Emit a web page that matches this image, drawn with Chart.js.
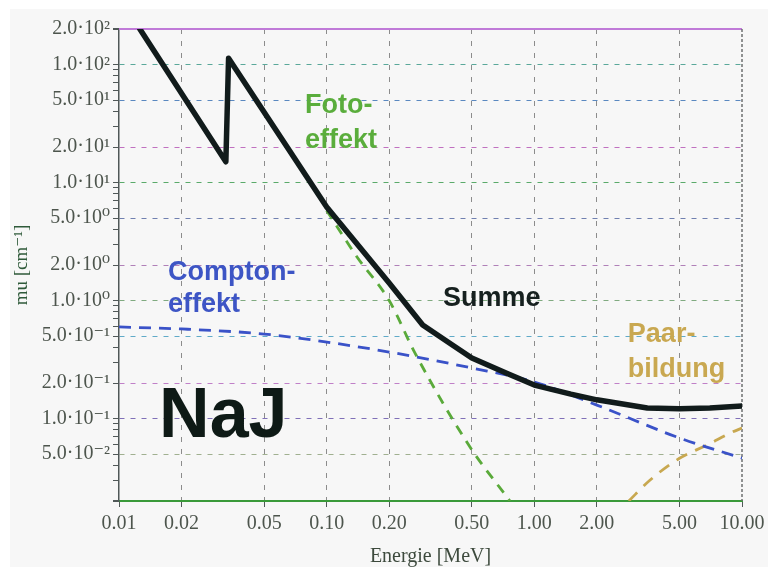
<!DOCTYPE html>
<html lang="de">
<head>
<meta charset="UTF-8">
<title>NaJ – Schwächungskoeffizient</title>
<script src="https://cdn.jsdelivr.net/npm/chart.js@4"></script>
<style>
  html, body { margin: 0; padding: 0; background: #fff; }
  #wrap { width: 781px; height: 567px; position: relative; }
</style>
</head>
<body>
<div id="wrap"><canvas id="chart"></canvas></div>
<script>
// Energie [MeV] / mu [cm^-1]
const summeE   = [0.0126, 0.0327, 0.0337, 0.1, 0.2, 0.29, 0.39, 0.5, 0.75, 1.0, 1.5, 2.0, 3.5, 5.0, 7.0, 10.0];
const summeMu  = [200, 15, 113, 6.2, 1.41, 0.62, 0.437, 0.326, 0.238, 0.192, 0.161, 0.144, 0.123, 0.121, 0.123, 0.128];
const comptonE  = [0.01, 0.02, 0.05, 0.1, 0.2, 0.5, 1.0, 2.0, 5.0, 10.0];
const comptonMu = [0.597, 0.574, 0.52, 0.445, 0.366, 0.268, 0.204, 0.130, 0.0684, 0.0462];
const fotoE  = [0.1, 0.14, 0.2, 0.266, 0.49, 0.763];
const fotoMu = [5.8, 2.34, 1.0, 0.36, 0.0574, 0.02];
const paarE  = [2.85, 3.6, 5.0, 6.8, 9.0, 10.0];
const paarMu = [0.02, 0.030, 0.046, 0.0597, 0.0769, 0.083];

const xTicks = [0.01, 0.02, 0.05, 0.1, 0.2, 0.5, 1, 2, 5, 10];
const xTickLabels = ['0.01', '0.02', '0.05', '0.10', '0.20', '0.50', '1.00', '2.00', '5.00', '10.00'];
const yTicks = [200, 100, 50, 20, 10, 5, 2, 1, 0.5, 0.2, 0.1, 0.05, 0.02];
const yTickLabels = ['2.0·10²', '1.0·10²', '5.0·10¹', '2.0·10¹', '1.0·10¹', '5.0·10⁰', '2.0·10⁰',
                     '1.0·10⁰', '5.0·10⁻¹', '2.0·10⁻¹', '1.0·10⁻¹', '5.0·10⁻²', ''];
const yMinorTicks = [90, 80, 70, 60, 40, 30, 9, 8, 7, 6, 4, 3, 0.9, 0.8, 0.7, 0.6, 0.4, 0.3,
                     0.09, 0.08, 0.07, 0.06, 0.04, 0.03];

// grid line colours of the scan, one per labelled y tick
const yGridColors = ['#c070d8', '#5aa89a', '#5a88c0', '#c070c0', '#5aaa6a', '#7080b0', '#b080b8',
                     '#80aa80', '#60aac8', '#c080c8', '#8070b8', '#a0b090', '#3a9a3a'];

const serif = "'Liberation Serif', 'DejaVu Serif', serif";
const sans = "'Liberation Sans', Arial, sans-serif";

const notes = [
  { lines: ['Foto-', 'effekt'], x: 0.0786, y: [38.8, 19.6], color: '#5aad3c', size: 27 },
  { lines: ['Compton-', 'effekt'], x: 0.0172, y: [1.49, 0.80], color: '#3d55c5', size: 27 },
  { lines: ['Summe'], x: 0.363, y: [0.90], color: '#16201f', size: 27 },
  { lines: ['Paar-', 'bildung'], x: 2.82, y: [0.445, 0.225], color: '#c9a851', size: 27 },
  { lines: ['NaJ'], x: 0.0156, y: [0.0697], color: '#0e1a16', size: 70 }
];

function pts(xs, ys) { return xs.map((x, i) => ({ x: x, y: ys[i] })); }
function tickVal(c) { return c && c.tick ? c.tick.value : NaN; }
function majorIndexY(v) { return yTicks.findIndex(t => Math.abs(t - v) < t * 1e-6); }
function isEdgeY(v) { return v === 200 || v === 0.02; }

const backdrop = {
  id: 'backdrop',
  beforeDraw(chart) {
    const ctx = chart.ctx;
    ctx.save();
    ctx.fillStyle = '#ffffff';
    ctx.fillRect(0, 0, chart.width, chart.height);
    ctx.fillStyle = '#f7f7f7';
    ctx.fillRect(10, 9, 758, chart.height - 9);
    ctx.restore();
  },
  beforeDatasetsDraw(chart) {
    // top and right frame
    const { ctx, chartArea: a } = chart;
    ctx.save();
    ctx.strokeStyle = '#c07ad8';
    ctx.lineWidth = 2;
    ctx.beginPath();
    ctx.moveTo(a.left, a.top);
    ctx.lineTo(a.right, a.top);
    ctx.stroke();
    ctx.strokeStyle = '#6e7070';
    ctx.lineWidth = 1.5;
    ctx.setLineDash([3, 2]);
    ctx.beginPath();
    ctx.moveTo(a.right, a.top);
    ctx.lineTo(a.right, a.bottom);
    ctx.stroke();
    ctx.restore();
  },
  afterDatasetsDraw(chart) {
    const { ctx, scales } = chart;
    ctx.save();
    ctx.textAlign = 'left';
    ctx.textBaseline = 'alphabetic';
    notes.forEach(n => {
      ctx.fillStyle = n.color;
      ctx.font = 'bold ' + n.size + 'px ' + sans;
      const px = scales.x.getPixelForValue(n.x);
      n.lines.forEach((t, i) => ctx.fillText(t, px, scales.y.getPixelForValue(n.y[i])));
    });
    ctx.restore();
  }
};

new Chart(document.getElementById('chart'), {
  type: 'line',
  data: {
    datasets: [
      { label: 'Summe', data: pts(summeE, summeMu), borderColor: '#111b1b', borderWidth: 5.5,
        borderJoinStyle: 'round', borderCapStyle: 'round', pointRadius: 0, tension: 0 },
      { label: 'Compton', data: pts(comptonE, comptonMu), borderColor: '#3a52c8', borderWidth: 2.8,
        borderDash: [12, 8], pointRadius: 0, cubicInterpolationMode: 'monotone' },
      { label: 'Foto', data: pts(fotoE, fotoMu), borderColor: '#5aaa3a', borderWidth: 2.8,
        borderDash: [10, 8], pointRadius: 0, cubicInterpolationMode: 'monotone' },
      { label: 'Paar', data: pts(paarE, paarMu), borderColor: '#c8a850', borderWidth: 2.8,
        borderDash: [12, 9], pointRadius: 0, cubicInterpolationMode: 'monotone' }
    ]
  },
  options: {
    responsive: true,
    maintainAspectRatio: false,
    animation: false,
    layout: { padding: { left: 0, top: 29, right: 39, bottom: 0 } },
    plugins: { legend: { display: false }, tooltip: { enabled: false } },
    scales: {
      x: {
        type: 'logarithmic',
        min: 0.01,
        max: 10,
        afterBuildTicks: s => { s.ticks = xTicks.map(v => ({ value: v })); },
        afterFit: s => { s.height = 66; },
        ticks: {
          autoSkip: false,
          maxRotation: 0,
          padding: 5,
          color: '#4d554d',
          font: { family: serif, size: 20 },
          callback: (v, i) => xTickLabels[i]
        },
        grid: {
          color: c => (c.index === 0 || c.index === xTicks.length - 1) ? 'transparent' : '#8c8c8c',
          lineWidth: 1,
          tickLength: 6,
          tickColor: '#505858'
        },
        border: { display: true, color: '#3a9a3a', width: 2, dash: [5, 7] },
        title: {
          display: true,
          text: 'Energie [MeV]',
          color: '#3d4a3d',
          font: { family: serif, size: 20, lineHeight: 1.0 },
          padding: { top: 0, bottom: 0 }
        }
      },
      y: {
        type: 'logarithmic',
        min: 0.02,
        max: 200,
        afterBuildTicks: s => { s.ticks = yTicks.concat(yMinorTicks).map(v => ({ value: v })); },
        afterFit: s => { s.width = 119; },
        ticks: {
          autoSkip: false,
          padding: 3,
          color: '#4d554d',
          font: { family: serif, size: 20 },
          callback: v => { const i = majorIndexY(v); return i < 0 ? '' : yTickLabels[i]; }
        },
        grid: {
          color: c => { const i = majorIndexY(tickVal(c)); return i < 0 ? 'transparent' : yGridColors[i]; },
          lineWidth: c => isEdgeY(tickVal(c)) ? 2 : 1,
          tickLength: 6,
          tickColor: '#505858'
        },
        border: {
          display: true, color: '#505858', width: 1.5,
          dash: c => isEdgeY(tickVal(c)) ? [] : [5, 6]
        },
        title: {
          display: true,
          text: 'mu [cm⁻¹]',
          color: '#2f5a3a',
          font: { family: serif, size: 19, lineHeight: 1.2 },
          padding: { top: 11, bottom: 0 }
        }
      }
    }
  },
  plugins: [backdrop]
});
</script>
</body>
</html>
